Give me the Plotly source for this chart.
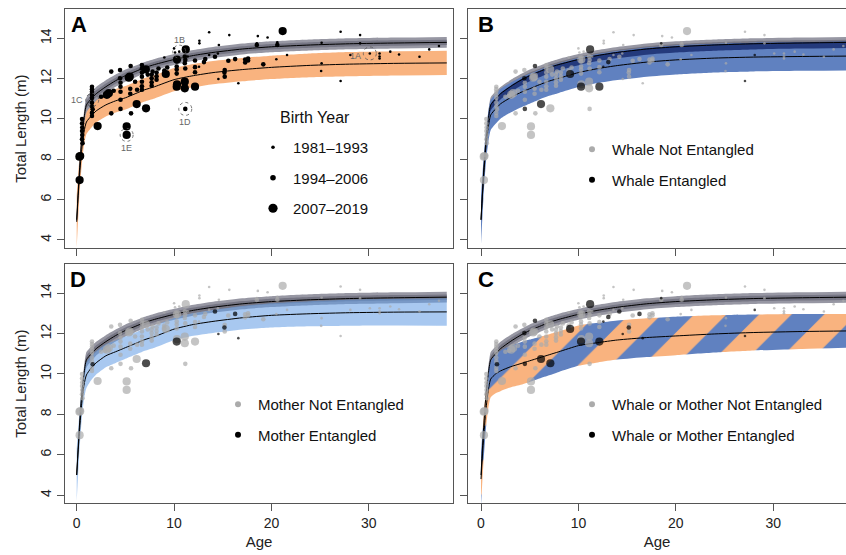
import plotly.graph_objects as go

# ---------------- growth-curve data (age in years, total length in m) ----------------
CURVE_AGE = [0, 0.25, 0.5, 0.75, 1, 1.5, 2, 3, 4, 5, 6, 7, 8, 10, 12, 14, 17, 20, 24, 28, 33, 38]

# reference population curve (grey band)
REF_MEAN = [5.0, 7.2, 8.9, 10.0, 10.7, 11.0, 11.25, 11.6, 11.9, 12.15, 12.35, 12.55, 12.7, 12.95,
            13.15, 13.3, 13.47, 13.58, 13.67, 13.73, 13.77, 13.8]
REF_HW = [0.1, 0.2, 0.3, 0.35, 0.38, 0.36, 0.34, 0.32, 0.3, 0.3, 0.29, 0.28, 0.28, 0.27,
          0.27, 0.27, 0.27, 0.27, 0.27, 0.27, 0.27, 0.27]

# panel A: recent birth cohort (orange band)
COHORT_MEAN = [4.9, 6.9, 8.4, 9.35, 9.85, 10.15, 10.4, 10.7, 10.9, 11.05, 11.25, 11.45, 11.6, 11.95,
               12.15, 12.3, 12.45, 12.56, 12.66, 12.72, 12.76, 12.78]
COHORT_HW = [1.3, 1.0, 0.8, 0.65, 0.6, 0.58, 0.58, 0.58, 0.58, 0.58, 0.58, 0.58, 0.58, 0.58,
             0.58, 0.58, 0.58, 0.58, 0.59, 0.6, 0.6, 0.6]

# panel B: whale entangled (blue) / not entangled (navy)
WHALE_MEAN = [5.0, 7.0, 8.6, 9.6, 10.2, 10.5, 10.75, 11.05, 11.3, 11.5, 11.7, 11.88, 12.02, 12.3,
              12.5, 12.65, 12.82, 12.93, 13.02, 13.07, 13.1, 13.12]
WHALE_HW = [1.2, 0.95, 0.8, 0.75, 0.75, 0.74, 0.74, 0.74, 0.74, 0.74, 0.73, 0.73, 0.73, 0.72,
            0.72, 0.72, 0.72, 0.72, 0.71, 0.71, 0.71, 0.71]
WHALE_NE_MEAN = [5.0, 7.15, 8.82, 9.9, 10.58, 10.88, 11.13, 11.48, 11.78, 12.03, 12.23, 12.43, 12.58,
                 12.83, 13.03, 13.18, 13.35, 13.46, 13.55, 13.61, 13.65, 13.68]
WHALE_NE_HW = [0.08, 0.12, 0.15, 0.16, 0.16, 0.16, 0.16, 0.16, 0.16, 0.16, 0.16, 0.16, 0.16, 0.16,
               0.16, 0.16, 0.16, 0.16, 0.16, 0.16, 0.16, 0.16]

# panel D: mother entangled (light blue)
MOTHER_MEAN = [5.0, 6.9, 8.45, 9.45, 9.95, 10.3, 10.55, 10.9, 11.1, 11.3, 11.5, 11.7, 11.85, 12.22,
               12.45, 12.6, 12.78, 12.9, 12.98, 13.03, 13.06, 13.07]
MOTHER_HW = [1.3, 1.0, 0.8, 0.7, 0.65, 0.6, 0.58, 0.57, 0.56, 0.55, 0.55, 0.55, 0.55, 0.55,
             0.56, 0.57, 0.58, 0.6, 0.62, 0.64, 0.66, 0.68]

# panel C: whale or mother entangled (striped band)
EITHER_MEAN = [4.8, 6.7, 8.2, 9.2, 9.75, 10.0, 10.15, 10.35, 10.5, 10.65, 10.8, 10.95, 11.1, 11.4,
               11.55, 11.68, 11.8, 11.88, 11.98, 12.05, 12.1, 12.13]
EITHER_HW = [1.3, 1.1, 0.95, 0.9, 0.9, 0.95, 1.0, 1.02, 1.05, 1.05, 1.03, 1.02, 1.0, 1.0,
             0.98, 0.97, 0.96, 0.95, 0.92, 0.89, 0.86, 0.83]

# ---------------- individual measurements ----------------
# age, length, birth cohort (1: 1981-1993, 2: 1994-2006, 3: 2007-2019),
# whale entangled flag, mother entangled flag
OBS_AGE = [0.30, 0.28, 0.36, 0.50, 0.55, 0.55, 0.57, 0.55, 0.57, 0.55, 0.60,
           1.57, 1.57, 1.57, 1.57, 1.57, 1.60, 1.57, 1.57, 1.64, 1.57, 1.57,
           2.15, 2.50, 2.90, 3.10, 3.30, 3.55, 3.55, 3.80,
           4.45, 4.45, 4.50, 4.50, 4.50, 4.50, 4.50,
           5.13, 5.13, 5.35, 5.45, 5.54, 5.58, 5.50, 5.50,
           6.16, 6.00, 6.20, 6.70, 6.70, 6.70, 6.70, 6.70, 6.70, 6.70,
           7.12, 7.10, 7.30, 7.70, 7.70, 7.70, 7.70, 7.80,
           8.20, 8.20, 8.20, 8.40, 9.00, 9.00, 9.15, 9.00, 9.30,
           10.00, 10.10, 10.27, 10.27, 10.27, 10.27, 10.27, 10.27, 10.30, 10.30, 10.53,
           11.20, 11.10, 11.15, 11.10, 11.15, 11.10, 11.10, 11.15, 11.40,
           12.15, 12.15, 12.15, 12.15, 12.60, 12.60, 12.56, 13.07, 13.20, 13.60, 13.60,
           14.20, 14.50, 14.60, 14.55, 15.20, 15.17, 15.20, 15.57, 15.67,
           16.27, 16.60, 17.30, 17.30, 17.60, 17.60,
           18.50, 18.50, 18.60, 19.16, 19.60, 20.50, 20.60, 20.60, 21.15, 21.60,
           25.15, 25.15, 25.10, 27.10, 27.10, 28.10, 29.10, 29.10, 30.10,
           31.10, 31.10, 31.10, 32.20, 33.10, 35.20, 36.20, 37.20]
OBS_LEN = [6.97, 8.13, 8.16, 8.20, 10.00, 9.78, 9.58, 9.40, 9.20, 9.00, 8.80,
           11.60, 11.48, 11.35, 11.20, 11.05, 10.95, 10.80, 10.62, 10.48, 10.30, 10.15,
           9.65, 11.10, 11.15, 11.20, 11.28, 12.35, 10.28, 11.40,
           12.43, 12.02, 11.80, 11.60, 11.35, 10.95, 10.50,
           9.63, 9.21, 12.05, 12.10, 12.63, 10.28, 11.25, 11.50,
           10.74, 11.85, 11.45, 12.68, 12.50, 12.30, 12.10, 11.85, 11.62, 11.45,
           10.53, 12.46, 12.20, 12.20, 12.02, 11.82, 11.65, 12.35,
           12.30, 12.12, 11.95, 12.50, 12.40, 12.25, 12.23, 13.05, 12.55,
           13.50, 13.30, 13.00, 12.85, 12.60, 12.45, 12.25, 11.60, 11.72, 12.95, 13.34,
           13.45, 13.10, 12.93, 12.77, 12.50, 11.85, 11.52, 10.50, 13.10,
           11.60, 12.90, 12.57, 12.32, 13.88, 13.75, 12.59, 12.82, 12.97, 14.30, 13.17,
           13.09, 13.25, 13.67, 11.98, 12.43, 12.30, 12.10, 12.89, 14.16,
           12.97, 11.77, 12.95, 12.80, 13.00, 12.90,
           13.75, 13.67, 14.11, 12.71, 14.04, 12.96, 13.80, 13.67, 14.36, 13.17,
           13.78, 12.76, 12.38, 14.33, 11.88, 13.17, 14.16, 13.75, 13.25,
           13.25, 13.10, 13.00, 13.34, 13.20, 13.09, 13.45, 13.62]
OBS_COHORT = [3, 3, 3, 2, 2, 2, 2, 2, 2, 2, 2,
              2, 2, 2, 2, 2, 1, 2, 2, 2, 2, 2,
              3, 2, 2, 3, 3, 2, 2, 2,
              2, 2, 2, 2, 2, 2, 2,
              3, 3, 3, 3, 2, 2, 2, 2,
              3, 2, 2, 2, 2, 2, 2, 2, 2, 2,
              3, 3, 2, 2, 2, 2, 2, 2,
              2, 2, 2, 2, 2, 2, 3, 1, 2,
              1, 1, 2, 2, 2, 2, 2, 3, 3, 3, 1,
              3, 2, 2, 2, 2, 3, 3, 2, 1,
              3, 2, 2, 2, 1, 1, 1, 2, 2, 1, 1,
              2, 1, 1, 1, 2, 2, 2, 2, 1,
              2, 1, 2, 2, 2, 2,
              1, 2, 1, 2, 1, 1, 1, 2, 3, 1,
              1, 1, 1, 1, 1, 1, 1, 1, 1,
              1, 1, 1, 1, 1, 1, 1, 1]
OBS_WHALE_ENT = [0, 0, 0, 0, 0, 0, 0, 0, 0, 0, 0,
                 0, 0, 0, 0, 0, 0, 0, 0, 0, 0, 0,
                 0, 0, 0, 0, 0, 0, 0, 0,
                 0, 1, 0, 0, 0, 0, 1,
                 0, 0, 0, 0, 1, 0, 0, 0,
                 1, 0, 0, 0, 0, 0, 0, 0, 0, 0,
                 0, 0, 0, 0, 0, 0, 0, 0,
                 0, 0, 0, 0, 0, 0, 1, 0, 0,
                 0, 0, 0, 0, 0, 0, 0, 1, 0, 0, 0,
                 1, 0, 0, 0, 0, 0, 0, 0, 0,
                 1, 0, 0, 0, 0, 0, 1, 1, 0, 0, 0,
                 0, 0, 0, 0, 0, 0, 0, 0, 0,
                 0, 0, 0, 0, 0, 0,
                 1, 0, 0, 0, 0, 0, 0, 0, 0, 0,
                 0, 0, 0, 0, 1, 1, 0, 0, 0,
                 0, 0, 0, 0, 0, 0, 0, 0]
OBS_MOTHER_ENT = [0, 0, 0, 0, 0, 0, 0, 0, 0, 0, 0,
                  0, 0, 0, 0, 0, 0, 0, 0, 1, 0, 0,
                  0, 0, 0, 0, 0, 0, 0, 0,
                  0, 0, 0, 0, 0, 0, 0,
                  0, 0, 0, 0, 0, 0, 0, 0,
                  0, 0, 0, 0, 0, 0, 0, 0, 0, 0,
                  1, 0, 0, 0, 0, 0, 0, 0,
                  0, 0, 0, 0, 0, 0, 0, 0, 0,
                  0, 0, 0, 0, 0, 0, 0, 1, 0, 0, 0,
                  0, 0, 0, 0, 0, 0, 0, 0, 0,
                  0, 0, 0, 0, 0, 0, 0, 0, 0, 0, 0,
                  1, 0, 0, 1, 0, 1, 0, 0, 0,
                  1, 1, 0, 0, 0, 0,
                  0, 0, 0, 0, 0, 0, 0, 0, 0, 0,
                  0, 0, 0, 0, 0, 0, 0, 0, 0,
                  0, 0, 0, 0, 0, 0, 0, 0]

# individuals highlighted in panel A
CASE_LABELS = ["1A", "1B", "1C", "1D", "1E"]
CASE_AGE = [30.10, 10.53, 1.60, 11.15, 5.13]
CASE_LEN = [13.25, 13.34, 10.95, 10.50, 9.21]
CASE_SHIFT = [(-14, -3), (0, 12), (-15, 0), (0, -13), (0, -13)]

COHORT_NAMES = ["1981\u20131993", "1994\u20132006", "2007\u20132019"]
X_TICKS = [0, 10, 20, 30]
Y_TICKS = [4, 6, 8, 10, 12, 14]

# ---------------- styling ----------------
FONT = "Liberation Sans, Arial, Helvetica, sans-serif"
GREY_OUT = "#9797a3"
GREY_IN = "#767684"
ORANGE = "#f9b37f"
BLUE = "#6081c0"
NAVY = "#243a7c"
LIGHT_BLUE = "rgba(97,155,228,0.55)"
PT_GREY = "#ababab"
MARK_SIZE = {1: 2.6, 2: 4.6, 3: 8.2}

fig = go.Figure()


def axes_of(ax):
    return ("x", "y") if ax == 1 else (f"x{ax}", f"y{ax}")


def add_band(ax, mean, hw, color, scale=1.0, pattern=None):
    xa, ya = axes_of(ax)
    lo = [m - h * scale for m, h in zip(mean, hw)]
    hi = [m + h * scale for m, h in zip(mean, hw)]
    fig.add_trace(go.Scatter(x=CURVE_AGE, y=lo, xaxis=xa, yaxis=ya, mode="lines",
                             line=dict(width=0, shape="spline", smoothing=0.6),
                             showlegend=False, hoverinfo="skip"))
    kw = dict(fill="tonexty", fillcolor=color)
    if pattern is not None:
        kw["fillpattern"] = pattern
    fig.add_trace(go.Scatter(x=CURVE_AGE, y=hi, xaxis=xa, yaxis=ya, mode="lines",
                             line=dict(width=0, shape="spline", smoothing=0.6),
                             showlegend=False, hoverinfo="skip", **kw))


def add_mean(ax, mean):
    xa, ya = axes_of(ax)
    fig.add_trace(go.Scatter(x=CURVE_AGE, y=mean, xaxis=xa, yaxis=ya, mode="lines",
                             line=dict(width=1, color="black", shape="spline", smoothing=0.6),
                             showlegend=False, hoverinfo="skip"))


def add_reference(ax):
    add_band(ax, REF_MEAN, REF_HW, GREY_OUT)
    add_band(ax, REF_MEAN, REF_HW, GREY_IN, scale=0.5)


def add_points(ax, flags):
    xa, ya = axes_of(ax)
    for flag, color in ((0, PT_GREY), (1, "black")):
        idx = [i for i, f in enumerate(flags) if f == flag]
        fig.add_trace(go.Scatter(
            x=[OBS_AGE[i] for i in idx], y=[OBS_LEN[i] for i in idx],
            xaxis=xa, yaxis=ya, mode="markers", showlegend=False, hoverinfo="skip",
            marker=dict(color=color, size=[MARK_SIZE[OBS_COHORT[i]] for i in idx],
                        line=dict(width=0))))


# ---- Panel A: birth cohort ----
add_band(1, COHORT_MEAN, COHORT_HW, ORANGE)
add_reference(1)
add_mean(1, REF_MEAN)
add_mean(1, COHORT_MEAN)
for c in (1, 2, 3):
    idx = [i for i, k in enumerate(OBS_COHORT) if k == c]
    fig.add_trace(go.Scatter(x=[OBS_AGE[i] for i in idx], y=[OBS_LEN[i] for i in idx],
                             mode="markers", showlegend=False, hoverinfo="skip",
                             marker=dict(color="black", size=MARK_SIZE[c], line=dict(width=0))))
    fig.add_trace(go.Scatter(x=[None], y=[None], mode="markers", name=COHORT_NAMES[c - 1],
                             legend="legend", legendgroup=f"c{c}",
                             marker=dict(color="black", size=MARK_SIZE[c] + 1)))

# ---- Panel B: whale entangled ----
add_reference(2)
add_band(2, WHALE_MEAN, WHALE_HW, BLUE)
add_band(2, WHALE_NE_MEAN, WHALE_NE_HW, NAVY)
add_mean(2, REF_MEAN)
add_mean(2, WHALE_MEAN)
add_points(2, OBS_WHALE_ENT)

# ---- Panel D: mother entangled ----
add_reference(3)
add_band(3, MOTHER_MEAN, MOTHER_HW, LIGHT_BLUE)
add_mean(3, REF_MEAN)
add_mean(3, MOTHER_MEAN)
add_points(3, OBS_MOTHER_ENT)

# ---- Panel C: whale or mother entangled ----
either = [max(w, m) for w, m in zip(OBS_WHALE_ENT, OBS_MOTHER_ENT)]
add_reference(4)
add_band(4, EITHER_MEAN, EITHER_HW, ORANGE,
         pattern=dict(shape="/", bgcolor=ORANGE, fgcolor=BLUE, fgopacity=1,
                      size=46, solidity=0.5, fillmode="replace"))
add_mean(4, REF_MEAN)
add_mean(4, EITHER_MEAN)
add_points(4, either)

# legend entries for panels B, D, C
for leg, names in (("legend2", ["Whale Not Entangled", "Whale Entangled"]),
                   ("legend3", ["Mother Not Entangled", "Mother Entangled"]),
                   ("legend4", ["Whale or Mother Not Entangled", "Whale or Mother Entangled"])):
    for name, color in zip(names, (PT_GREY, "black")):
        fig.add_trace(go.Scatter(x=[None], y=[None], mode="markers", name=name, legend=leg,
                                 legendgroup=leg + name, marker=dict(color=color, size=6)))

# ---------------- axes ----------------
W, H = 846, 555
XL = [65 / W, 453 / W]
XR = [468 / W, 1.0]
YT = [1 - 248 / H, 1 - 9.3 / H]
YB = [1 - 503.3 / H, 1 - 264 / H]
XL_RANGE = [-1.2, 38.64]
XR_RANGE = [-1.335, 37.47]
Y_RANGE = [3.6, 15.44]

axis_common = dict(showgrid=False, zeroline=False, showline=True, linecolor="#555",
                   linewidth=1, ticks="outside", ticklen=7, tickcolor="#555",
                   tickfont=dict(family=FONT, size=14, color="#222"))

layout_axes = {}
panels = [(1, XL, YT, XL_RANGE, False, True),
          (2, XR, YT, XR_RANGE, False, False),
          (3, XL, YB, XL_RANGE, True, True),
          (4, XR, YB, XR_RANGE, True, False)]
for n, xd, yd, xr, xlab, ylab in panels:
    xname = "xaxis" if n == 1 else f"xaxis{n}"
    yname = "yaxis" if n == 1 else f"yaxis{n}"
    anchor_x = "y" if n == 1 else f"y{n}"
    anchor_y = "x" if n == 1 else f"x{n}"
    xa = dict(axis_common, domain=xd, range=xr, anchor=anchor_x, tickvals=X_TICKS,
              showticklabels=xlab, mirror=True)
    if xlab:
        xa["title"] = dict(text="Age", font=dict(family=FONT, size=15, color="#222"), standoff=6)
    ya = dict(axis_common, domain=yd, range=Y_RANGE, anchor=anchor_y, tickvals=Y_TICKS,
              showticklabels=ylab, tickangle=-90, mirror=ylab)
    if ylab:
        ya["title"] = dict(text="Total Length (m)", font=dict(family=FONT, size=15, color="#222"),
                           standoff=8)
    layout_axes[xname] = xa
    layout_axes[yname] = ya

# ---------------- annotations ----------------
annotations = []
for letter, x, y in (("A", 69, 10), ("B", 476, 10), ("D", 68, 265), ("C", 476, 265)):
    annotations.append(dict(text=f"<b>{letter}</b>", x=x / W, y=1 - y / H, xref="paper",
                            yref="paper", xanchor="left", yanchor="top", showarrow=False,
                            font=dict(family=FONT, size=22, color="black")))
annotations.append(dict(text="Birth Year", x=278 / W, y=1 - 117 / H, xref="paper", yref="paper",
                        xanchor="left", yanchor="middle", showarrow=False,
                        font=dict(family=FONT, size=16, color="#111")))

shapes = []
for lab, a, l, (dx, dy) in zip(CASE_LABELS, CASE_AGE, CASE_LEN, CASE_SHIFT):
    annotations.append(dict(text=lab, x=a, y=l, xref="x", yref="y", showarrow=False,
                            xshift=dx, yshift=dy, font=dict(family=FONT, size=9, color="#666")))
    shapes.append(dict(type="circle", xref="x", yref="y", xsizemode="pixel", ysizemode="pixel",
                       xanchor=a, yanchor=l, x0=-6.5, x1=6.5, y0=-6.5, y1=6.5,
                       line=dict(color="#555", width=0.8, dash="dot")))

leg_font = dict(family=FONT, size=15, color="#111")
legend_base = dict(bgcolor="rgba(0,0,0,0)", font=leg_font, xanchor="left", yanchor="top",
                   tracegroupgap=8, itemsizing="trace", traceorder="grouped")

fig.update_layout(
    width=W, height=H,
    margin=dict(l=0, r=0, t=0, b=0),
    paper_bgcolor="white", plot_bgcolor="white",
    font=dict(family=FONT),
    annotations=annotations,
    shapes=shapes,
    legend=dict(legend_base, x=253 / W, y=1 - 131 / H),
    legend2=dict(legend_base, x=572 / W, y=1 - 133 / H),
    legend3=dict(legend_base, x=218 / W, y=1 - 388 / H),
    legend4=dict(legend_base, x=572 / W, y=1 - 388 / H),
    **layout_axes,
)

fig.write_html("out.html")
